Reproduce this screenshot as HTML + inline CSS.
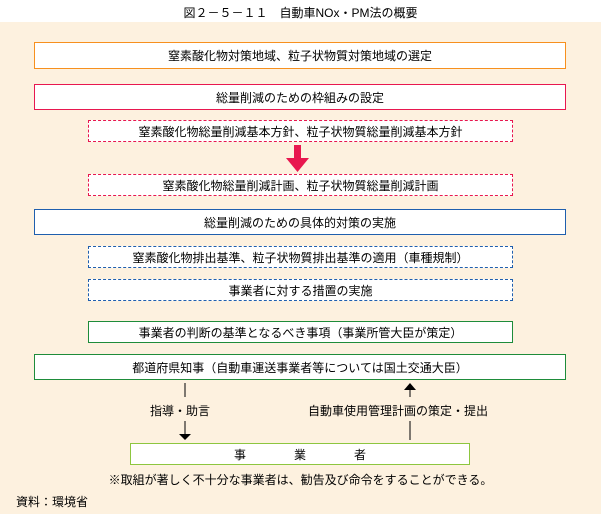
<!DOCTYPE html>
<html><head><meta charset="utf-8"><style>
body{margin:0;width:601px;height:514px;background:#fff;position:relative;font-family:"Liberation Sans","Noto Sans CJK JP",sans-serif;font-size:12px;color:#000;overflow:hidden}
.bg{position:absolute;left:0;top:22px;width:601px;height:492px;background:#fdf1df}
.b{position:absolute;box-sizing:border-box;background:#fff;display:flex;align-items:center;justify-content:center;white-space:nowrap}
.t{position:absolute;white-space:nowrap}
</style></head><body>
<div class="t" style="left:0;width:601px;text-align:center;top:4px">図２－５－１１　自動車NOx・PM法の概要</div>
<div class="bg"></div>
<div class="b" style="left:34px;top:42px;width:532px;height:27px;border:1px solid #f7901e">窒素酸化物対策地域、粒子状物質対策地域の選定</div>
<div class="b" style="left:34px;top:84px;width:532px;height:26px;border:1px solid #e8174f">総量削減のための枠組みの設定</div>
<div class="b" style="left:88px;top:120px;width:425px;height:22px;border:1px dashed #e8174f">窒素酸化物総量削減基本方針、粒子状物質総量削減基本方針</div>
<svg style="position:absolute;left:286px;top:145px" width="24" height="28"><rect x="8" y="0" width="7" height="14" fill="#e8174f"/><polygon points="0,13 23,13 11.5,27" fill="#e8174f"/></svg>
<div class="b" style="left:88px;top:174px;width:425px;height:22px;border:1px dashed #e8174f">窒素酸化物総量削減計画、粒子状物質総量削減計画</div>
<div class="b" style="left:34px;top:209px;width:532px;height:26px;border:1px solid #1f5fae">総量削減のための具体的対策の実施</div>
<div class="b" style="left:88px;top:246px;width:425px;height:22px;border:1px dashed #1f5fae">窒素酸化物排出基準、粒子状物質排出基準の適用（車種規制）</div>
<div class="b" style="left:88px;top:279px;width:425px;height:22px;border:1px dashed #1f5fae">事業者に対する措置の実施</div>
<div class="b" style="left:88px;top:321px;width:425px;height:22px;border:1px solid #1e8c3a">事業者の判断の基準となるべき事項（事業所管大臣が策定）</div>
<div class="b" style="left:34px;top:354px;width:532px;height:26px;border:1px solid #1e8c3a">都道府県知事（自動車運送事業者等については国土交通大臣）</div>
<svg style="position:absolute;left:0;top:380px" width="601" height="64">
<line x1="185" y1="3" x2="185" y2="17" stroke="#000"/>
<line x1="185" y1="41" x2="185" y2="55" stroke="#000"/>
<polygon points="179,54 191,54 185,60" fill="#000"/>
<polygon points="404,10 416,10 410,3" fill="#000"/>
<line x1="410" y1="9" x2="410" y2="17" stroke="#000"/>
<line x1="410" y1="41" x2="410" y2="60" stroke="#000"/>
</svg>
<div class="t" style="left:150px;top:402px">指導・助言</div>
<div class="t" style="left:308px;top:402px">自動車使用管理計画の策定・提出</div>
<div class="b" style="left:130px;top:443px;width:340px;height:22px;border:1px solid #8dc63f">事　　　　業　　　　者</div>
<div class="t" style="left:0;width:601px;text-align:center;top:471px">※取組が著しく不十分な事業者は、勧告及び命令をすることができる。</div>
<div class="t" style="left:16px;top:493px">資料：環境省</div>
</body></html>
